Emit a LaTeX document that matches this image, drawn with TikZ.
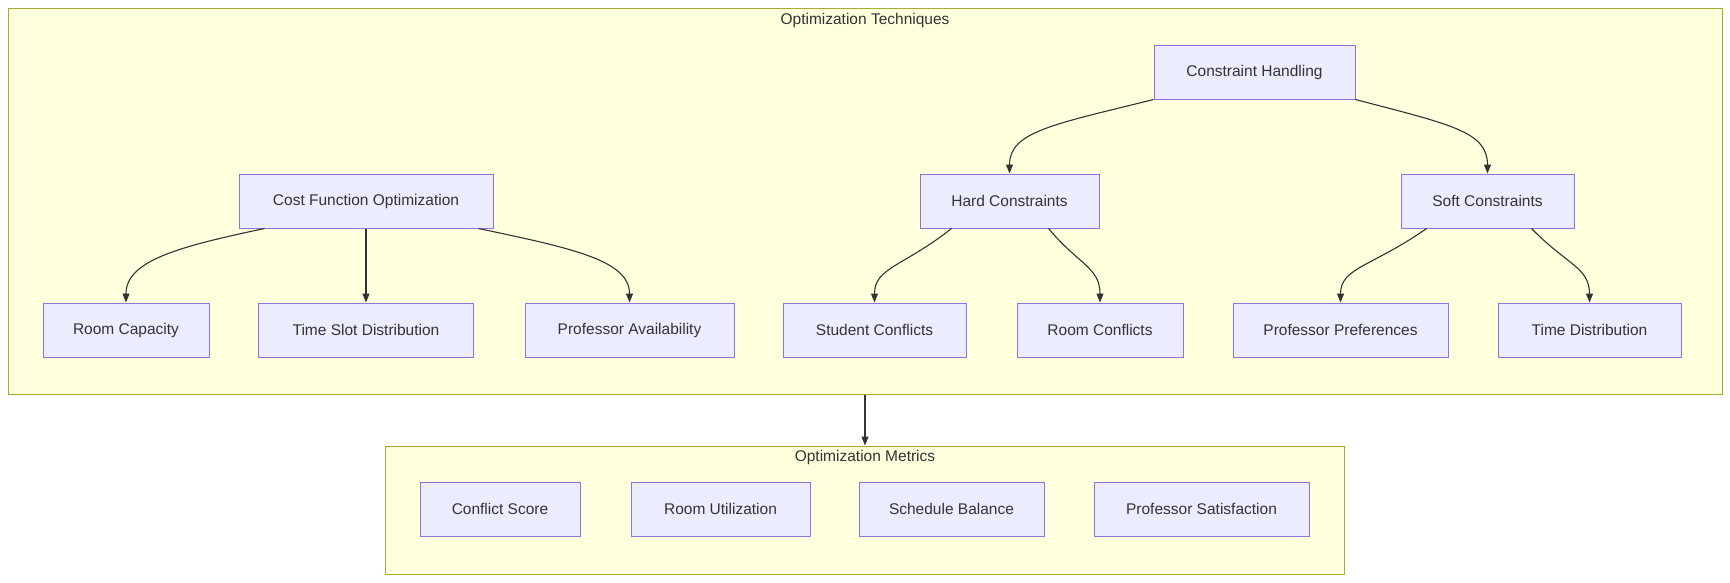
\documentclass[tikz,border=0pt]{standalone}
\usepackage{fontspec}
\setmainfont{Liberation Sans}
\usetikzlibrary{arrows.meta,calc}
\definecolor{nodefill}{HTML}{ECECFF}
\definecolor{nodestroke}{HTML}{9370DB}
\definecolor{clfill}{HTML}{FFFFDE}
\definecolor{clstroke}{HTML}{AAAA33}
\definecolor{edgec}{HTML}{333333}
\definecolor{txt}{HTML}{333333}
\begin{document}
\begin{tikzpicture}[x=1pt,y=-1pt,
  box/.style={draw=nodestroke,fill=nodefill,line width=1pt,minimum height=54pt,inner sep=0pt,text=txt,font=\fontsize{15.5}{18}\selectfont},
  cluster/.style={draw=clstroke,fill=clfill,line width=1pt,inner sep=0pt},
  cltitle/.style={text=txt,font=\fontsize{15.5}{18}\selectfont,inner sep=0pt},
  edge/.style={draw=edgec,line width=1.1pt,-{Triangle[length=9pt,width=7pt]}}]
\useasboundingbox (0,0) rectangle (1730,582);
\fill[white] (0,0) rectangle (1730,582);
% clusters
\node[cluster,minimum width=1714pt,minimum height=386pt] (outer) at (865,201) {};
\node[cltitle] (outert) at (865,20) {Optimization Techniques};
\node[cluster,minimum width=959pt,minimum height=128pt] (inner) at (865,510) {};
\node[cltitle] (innert) at (865,457) {Optimization Metrics};
% top tree
\node[box,minimum width=201pt] (ch) at (1254.5,72) {Constraint Handling};
\node[box,minimum width=254pt] (cost) at (366,201) {Cost Function Optimization};
\node[box,minimum width=179pt] (hard) at (1009.5,201) {Hard Constraints};
\node[box,minimum width=173pt] (soft) at (1487.5,201) {Soft Constraints};
\node[box,minimum width=166pt] (rc) at (126,330) {Room Capacity};
\node[box,minimum width=215pt] (ts) at (366,330) {Time Slot Distribution};
\node[box,minimum width=209pt] (pa) at (629.5,330) {Professor Availability};
\node[box,minimum width=183pt] (sc) at (874.5,330) {Student Conflicts};
\node[box,minimum width=166pt] (rcf) at (1100,330) {Room Conflicts};
\node[box,minimum width=215pt] (pp) at (1340.5,330) {Professor Preferences};
\node[box,minimum width=183pt] (td) at (1589.5,330) {Time Distribution};
% metrics
\node[box,minimum width=160pt] (cs) at (500,509) {Conflict Score};
\node[box,minimum width=179pt] (ru) at (720.5,509) {Room Utilization};
\node[box,minimum width=185pt] (sb) at (951.5,509) {Schedule Balance};
\node[box,minimum width=215pt] (ps) at (1201.5,509) {Professor Satisfaction};
% edges
\draw[edge] ([xshift=26pt]cost.south west) .. controls +(-85,18) and +(0,-42) .. (rc.north);
\draw[edge] (cost.south) -- (ts.north);
\draw[edge] ([xshift=-15pt]cost.south east) .. controls +(95,20) and +(0,-42) .. (pa.north);
\draw[edge] (ch.south west) .. controls +(-100,25) and +(0,-42) .. (hard.north);
\draw[edge] (ch.south east) .. controls +(95,25) and +(0,-42) .. (soft.north);
\draw[edge] ([xshift=32pt]hard.south west) .. controls +(-48,38) and +(0,-35) .. (sc.north);
\draw[edge] ([xshift=-51pt]hard.south east) .. controls +(30,36) and +(0,-35) .. (rcf.north);
\draw[edge] ([xshift=26pt]soft.south west) .. controls +(-54,38) and +(0,-35) .. (pp.north);
\draw[edge] ([xshift=-43pt]soft.south east) .. controls +(35,36) and +(0,-35) .. (td.north);
\draw[edge] (outer.south) -- (inner.north);
\end{tikzpicture}
\end{document}
